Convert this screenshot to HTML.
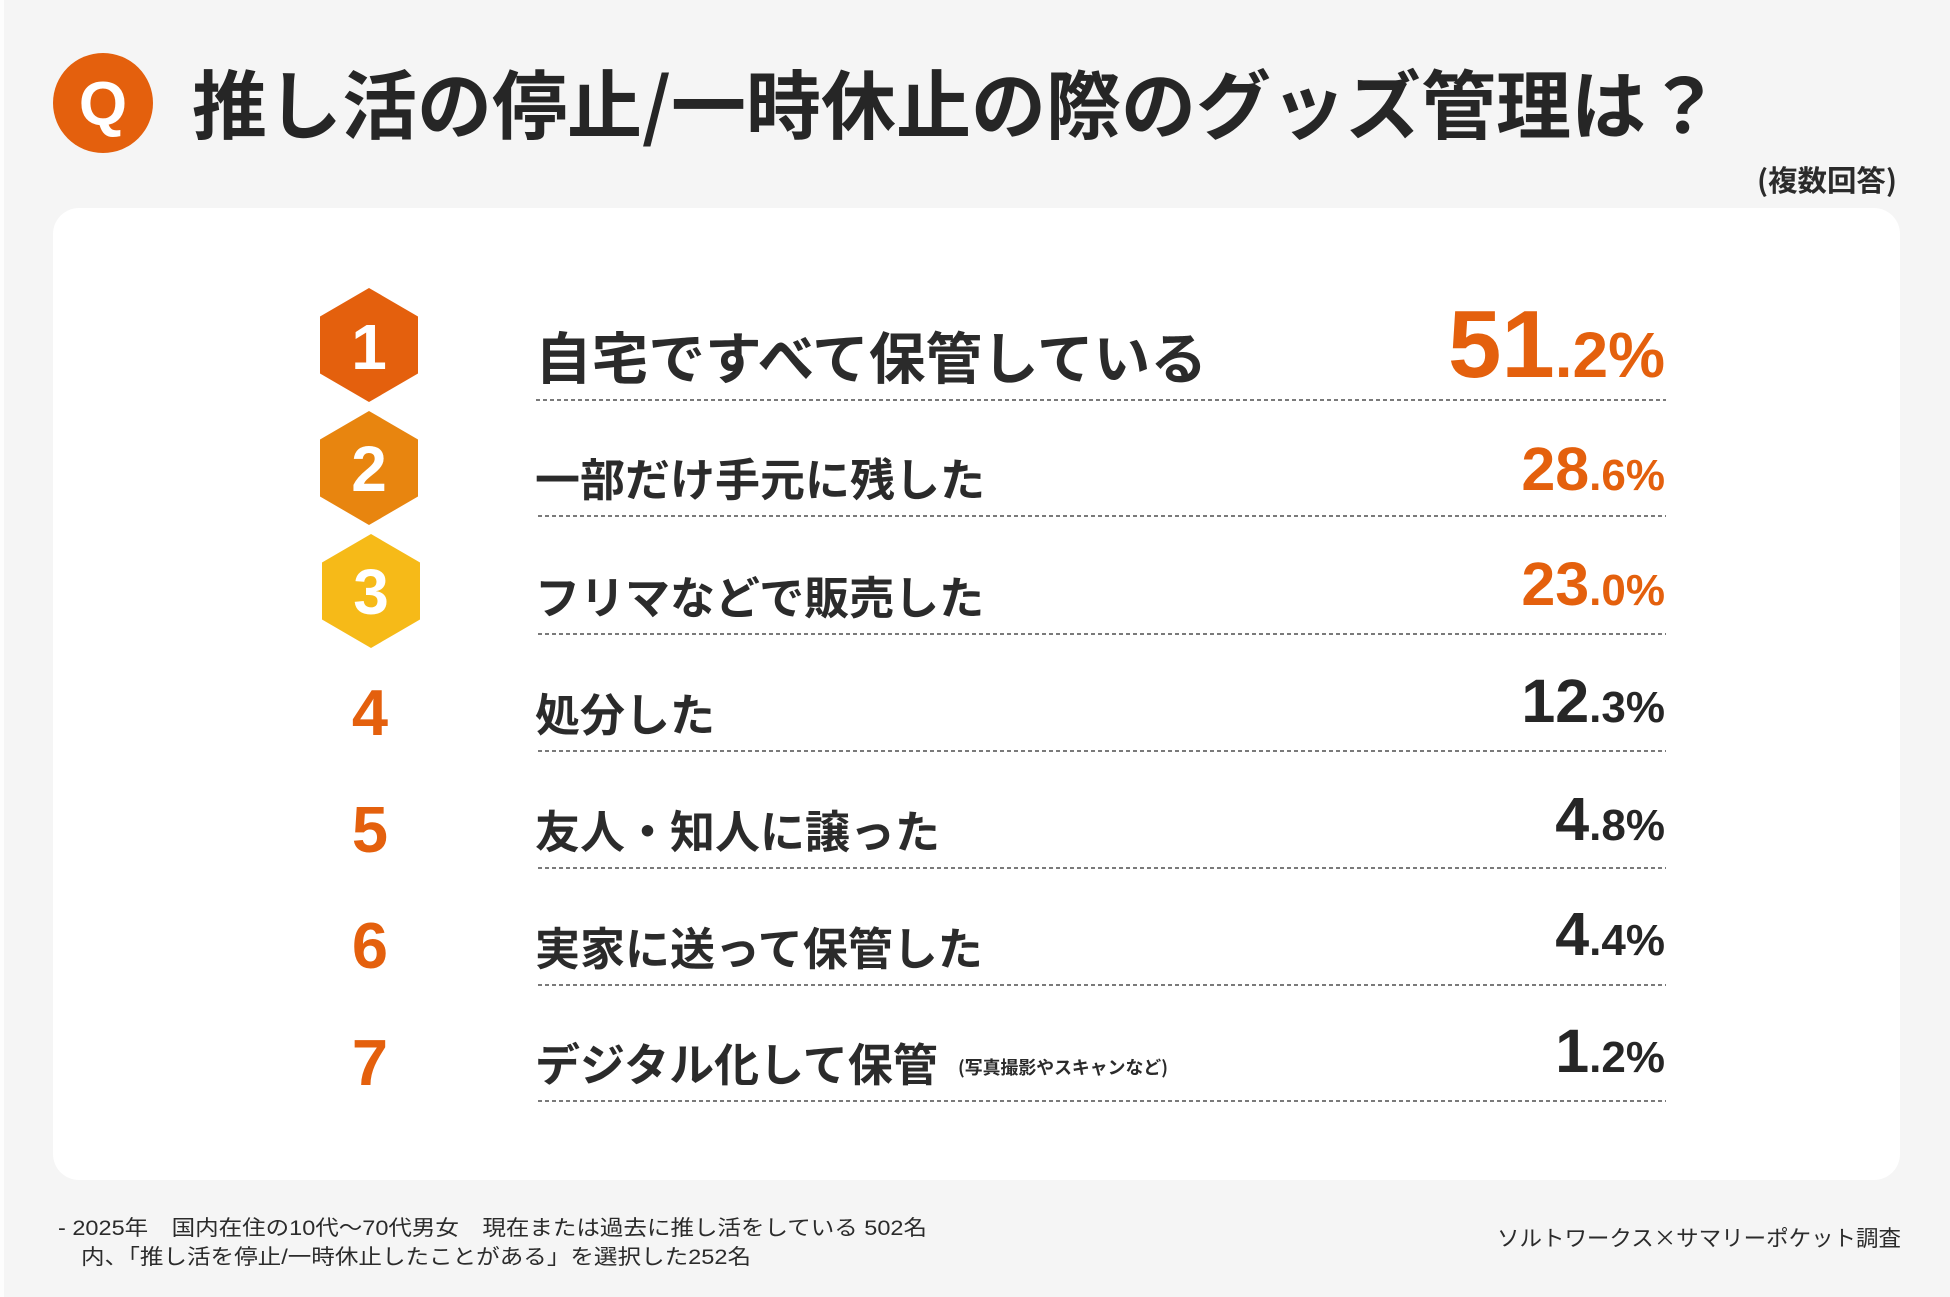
<!DOCTYPE html>
<html lang="ja">
<head>
<meta charset="utf-8">
<style>
  html, body { margin:0; padding:0; background:#f5f5f5; }
  body { width:1950px; height:1297px; overflow:hidden; }
  svg { display:block; }
  .jp { font-family: "Liberation Sans", "Noto Sans CJK JP", sans-serif; }
  .cjk { font-family: "Noto Sans CJK JP", "Liberation Sans", sans-serif; }
  .num { font-family: "Liberation Sans", "DejaVu Sans", sans-serif; }
</style>
</head>
<body>
<svg width="1950" height="1297" viewBox="0 0 1950 1297" xmlns="http://www.w3.org/2000/svg">
  <!-- background -->
  <rect x="0" y="0" width="1950" height="1297" fill="#f5f5f5"/>
  <rect x="0" y="0" width="4" height="1297" fill="#fdfdfd"/>

  <!-- Q badge -->
  <circle cx="103" cy="103" r="50" fill="#e4600d"/>
  <text x="103" y="125" text-anchor="middle" class="num" font-size="62" font-weight="700" fill="#ffffff">Q</text>

  <!-- Title -->
  <text x="192" y="133" class="cjk" font-size="75" font-weight="700" fill="#262626">推し活の停止/一時休止の際のグッズ管理は？</text>

  <!-- (複数回答) -->
  <text x="1897" y="191" text-anchor="end" class="cjk" font-size="29" font-weight="700" fill="#2b2b2b" textLength="140" lengthAdjust="spacingAndGlyphs">(複数回答)</text>

  <!-- card -->
  <rect x="53" y="208" width="1847" height="972" rx="26" ry="26" fill="#ffffff"/>

  <!-- hexagons -->
  <polygon points="369,288 418,316.5 418,373.5 369,402 320,373.5 320,316.5" fill="#e4600d"/>
  <polygon points="369,411 418,439.5 418,496.5 369,525 320,496.5 320,439.5" fill="#e8850f"/>
  <polygon points="371,534 420,562.5 420,619.5 371,648 322,619.5 322,562.5" fill="#f6ba18"/>
  <text x="369" y="369" text-anchor="middle" class="num" font-size="64" font-weight="700" fill="#ffffff">1</text>
  <text x="369" y="491" text-anchor="middle" class="num" font-size="64" font-weight="700" fill="#ffffff">2</text>
  <text x="371" y="614" text-anchor="middle" class="num" font-size="64" font-weight="700" fill="#ffffff">3</text>

  <!-- numbers 4-7 -->
  <g class="num" font-size="65" font-weight="700" fill="#e4600d" text-anchor="middle">
    <text x="370" y="735">4</text>
    <text x="370" y="852">5</text>
    <text x="370" y="968">6</text>
    <text x="370" y="1085">7</text>
  </g>

  <!-- labels -->
  <g class="cjk" font-weight="700" fill="#2b2b2b">
    <text x="535" y="379" font-size="56" textLength="672" lengthAdjust="spacingAndGlyphs">自宅ですべて保管している</text>
    <text x="535" y="496" font-size="45">一部だけ手元に残した</text>
    <text x="535" y="614" font-size="45">フリマなどで販売した</text>
    <text x="535" y="731" font-size="45">処分した</text>
    <text x="535" y="848" font-size="45">友人・知人に譲った</text>
    <text x="535" y="965" font-size="45">実家に送って保管した</text>
    <text x="535" y="1081" font-size="45">デジタル化して保管</text>
    <text x="958" y="1074" font-size="18" textLength="210" lengthAdjust="spacingAndGlyphs">(写真撮影やスキャンなど)</text>
  </g>

  <!-- dotted separators -->
  <g stroke="#7a7a7a" stroke-width="2" stroke-dasharray="4 3" fill="none">
    <line x1="536" y1="400" x2="1666" y2="400"/>
    <line x1="538" y1="516" x2="1666" y2="516"/>
    <line x1="538" y1="634" x2="1666" y2="634"/>
    <line x1="538" y1="751" x2="1666" y2="751"/>
    <line x1="538" y1="868" x2="1666" y2="868"/>
    <line x1="538" y1="985" x2="1666" y2="985"/>
    <line x1="538" y1="1101" x2="1666" y2="1101"/>
  </g>

  <!-- values -->
  <g class="num" font-weight="700" text-anchor="end">
    <text x="1665" y="377" fill="#e4600d"><tspan font-size="96">51</tspan><tspan font-size="64">.2%</tspan></text>
    <text x="1665" y="490" fill="#e4600d"><tspan font-size="61">28</tspan><tspan font-size="44">.6%</tspan></text>
    <text x="1665" y="605" fill="#e4600d"><tspan font-size="61">23</tspan><tspan font-size="44">.0%</tspan></text>
    <text x="1665" y="722" fill="#262626"><tspan font-size="61">12</tspan><tspan font-size="44">.3%</tspan></text>
    <text x="1665" y="840" fill="#262626"><tspan font-size="61">4</tspan><tspan font-size="44">.8%</tspan></text>
    <text x="1665" y="955" fill="#262626"><tspan font-size="61">4</tspan><tspan font-size="44">.4%</tspan></text>
    <text x="1665" y="1072" fill="#262626"><tspan font-size="61">1</tspan><tspan font-size="44">.2%</tspan></text>
  </g>

  <!-- footer -->
  <g class="jp" font-size="21" fill="#2b2b2b">
    <text x="58" y="1235" textLength="869" lengthAdjust="spacingAndGlyphs">- 2025年　国内在住の10代～70代男女　現在または過去に推し活をしている 502名</text>
    <text x="81" y="1264" textLength="670" lengthAdjust="spacingAndGlyphs">内、「推し活を停止/一時休止したことがある」を選択した252名</text>
  </g>
  <text x="1497" y="1246" class="cjk" font-size="22" fill="#2b2b2b" textLength="404" lengthAdjust="spacingAndGlyphs">ソルトワークス×サマリーポケット調査</text>
</svg>
</body>
</html>
